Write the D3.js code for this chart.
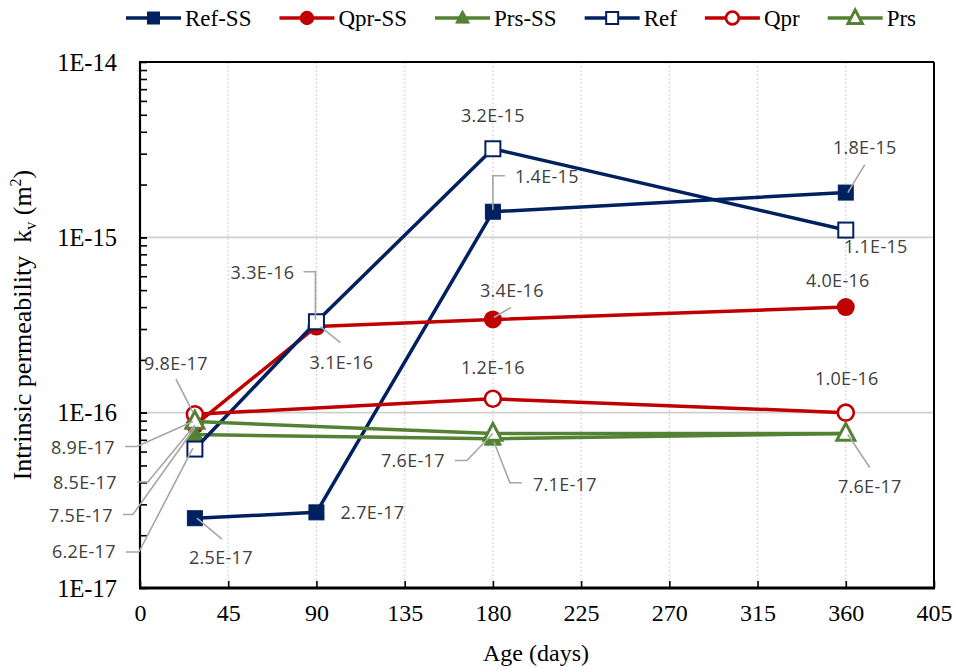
<!DOCTYPE html>
<html>
<head>
<meta charset="utf-8">
<script src="https://cdn.jsdelivr.net/npm/d3@7"></script>
<style>
  html, body { margin: 0; padding: 0; background: #fff; }
  svg { display: block; }
</style>
</head>
<body>
<svg id="chart" width="955" height="670"></svg>
<script>
// ---------------- DATA ----------------
const ages = [28, 90, 180, 360];
const seriesNames = ["Ref-SS", "Qpr-SS", "Prs-SS", "Ref", "Qpr", "Prs"];
const refSS = [2.5e-17, 2.7e-17, 1.4e-15, 1.8e-15];
const qprSS = [8.5e-17, 3.1e-16, 3.4e-16, 4.0e-16];
const prsSS = [7.5e-17, null, 7.1e-17, 7.6e-17];
const ref   = [6.2e-17, 3.3e-16, 3.2e-15, 1.1e-15];
const qpr   = [9.8e-17, null, 1.2e-16, 1.0e-16];
const prs   = [8.9e-17, null, 7.6e-17, 7.6e-17];
const xTickValues = [0, 45, 90, 135, 180, 225, 270, 315, 360, 405];
const yTickValues = [1e-17, 1e-16, 1e-15, 1e-14];
const yTickLabels = ["1E-17", "1E-16", "1E-15", "1E-14"];
const xTitle = "Age (days)";

// ---------------- STYLE / LAYOUT ----------------
const NAVY = "#002060", RED = "#C00000", GREEN = "#548235";
const styles = [
  { color: NAVY,  marker: "square",   filled: true  },
  { color: RED,   marker: "circle",   filled: true  },
  { color: GREEN, marker: "triangle", filled: true  },
  { color: NAVY,  marker: "square",   filled: false },
  { color: RED,   marker: "circle",   filled: false },
  { color: GREEN, marker: "triangle", filled: false }
];
const values = [refSS, qprSS, prsSS, ref, qpr, prs];

// label offsets relative to the data point (series index, point index, dx, dy, leader path offsets)
const annotations = [
  { s: 0, i: 0, dx: 26,   dy: 39,  leader: [[27, 21], [2, 0]] },
  { s: 0, i: 1, dx: 56,   dy: 0,   leader: null },
  { s: 0, i: 2, dx: 54,   dy: -35, leader: [[12, -36], [0, -36], [0, -2]] },
  { s: 0, i: 3, dx: 19,   dy: -45, leader: [[19, -28], [2, 0]] },
  { s: 1, i: 0, dx: -110, dy: 58,  leader: [[-58, 57], [-47, 57], [0, 0]] },
  { s: 1, i: 1, dx: 25,   dy: 36,  leader: [[24, 16], [4, 0]] },
  { s: 1, i: 2, dx: 19,   dy: -29, leader: [[18, -12], [1, -2]] },
  { s: 1, i: 3, dx: -8,   dy: -26, leader: null },
  { s: 2, i: 0, dx: -114, dy: 81,  leader: [[-72, 80], [-62, 80], [0, -7]] },
  { s: 2, i: 2, dx: 72,   dy: 46,  leader: [[29, 44], [17, 44], [1, 3]] },
  { s: 3, i: 0, dx: -111, dy: 103, leader: [[-69, 103], [-56, 103], [-2, -1]] },
  { s: 3, i: 1, dx: -54,  dy: -49, leader: [[-13, -50], [-1, -50], [-1, -2]] },
  { s: 3, i: 2, dx: 0,    dy: -33, leader: null },
  { s: 3, i: 3, dx: 30,   dy: 17,  leader: null },
  { s: 4, i: 0, dx: -19,  dy: -51, leader: [[-19, -35], [-2, -2]] },
  { s: 4, i: 2, dx: 0,    dy: -31, leader: null },
  { s: 4, i: 3, dx: 1,    dy: -34, leader: null },
  { s: 5, i: 0, dx: -112, dy: 26,  leader: [[-70, 25], [-58, 25], [-2, 0]] },
  { s: 5, i: 2, dx: -80,  dy: 27,  leader: [[-38, 27], [-26, 27], [0, 0]] },
  { s: 5, i: 3, dx: 24,   dy: 53,  leader: [[24, 34], [2, 1]] }
];

const plot = { left: 140, right: 934, top: 62, bottom: 588 };
const serif = "'Liberation Serif', 'Times New Roman', serif";
const sans = "'Open Sans', 'Noto Sans', sans-serif";

const svg = d3.select("#chart");

const x = d3.scaleLinear().domain([0, 405]).range([plot.left, plot.right]);
const y = d3.scaleLog().domain([1e-17, 1e-14]).range([plot.bottom, plot.top]);

// ---------------- GRID ----------------
const grid = svg.append("g");
grid.selectAll("line.vg")
  .data(xTickValues.filter(v => v > 0 && v < 405))
  .join("line")
  .attr("x1", d => x(d)).attr("x2", d => x(d))
  .attr("y1", plot.top).attr("y2", plot.bottom)
  .attr("stroke", "#d9d9d9").attr("stroke-width", 1.3)
  .attr("stroke-dasharray", "2,2");
grid.selectAll("line.hg")
  .data([1e-16, 1e-15])
  .join("line")
  .attr("x1", plot.left).attr("x2", plot.right)
  .attr("y1", d => y(d)).attr("y2", d => y(d))
  .attr("stroke", "#d0d0d0").attr("stroke-width", 1.6);

// ---------------- AXES ----------------
const yMinor = [];
[1e-17, 1e-16, 1e-15].forEach(dec => { for (let k = 1; k <= 10; k++) yMinor.push(dec * k); });
const yAxis = d3.axisLeft(y).tickValues(yMinor).tickSize(-7).tickFormat("");
const gy = svg.append("g").attr("transform", `translate(${plot.left},0)`).call(yAxis);
gy.select(".domain").remove();
gy.selectAll(".tick line").attr("stroke", "#000").attr("stroke-width", 1.6);

const yLab = svg.append("g");
yLab.selectAll("text")
  .data(yTickValues)
  .join("text")
  .attr("x", 117).attr("y", d => y(d))
  .attr("dy", "0.35em")
  .attr("text-anchor", "end")
  .attr("font-family", serif).attr("font-size", 24.5).attr("fill", "#000")
  .text((d, i) => yTickLabels[i]);

const xAxis = d3.axisBottom(x).tickValues(xTickValues).tickSize(-7).tickPadding(16).tickFormat(d3.format("d"));
const gx = svg.append("g").attr("transform", `translate(0,${plot.bottom})`).call(xAxis);
gx.select(".domain").remove();
gx.selectAll(".tick line").attr("stroke", "#000").attr("stroke-width", 1.6);
gx.selectAll(".tick text").attr("font-family", serif).attr("font-size", 24).attr("fill", "#000");

// frame
svg.append("line").attr("x1", plot.left).attr("x2", plot.right).attr("y1", plot.top).attr("y2", plot.top)
  .attr("stroke", "#000").attr("stroke-width", 2);
svg.append("line").attr("x1", plot.right).attr("x2", plot.right).attr("y1", plot.top).attr("y2", plot.bottom)
  .attr("stroke", "#000").attr("stroke-width", 2);
svg.append("line").attr("x1", plot.left).attr("x2", plot.left).attr("y1", plot.top - 1).attr("y2", plot.bottom)
  .attr("stroke", "#000").attr("stroke-width", 2.2);
svg.append("line").attr("x1", plot.left - 1).attr("x2", plot.right + 1).attr("y1", plot.bottom).attr("y2", plot.bottom)
  .attr("stroke", "#000").attr("stroke-width", 3);

// axis titles
svg.append("text")
  .attr("x", (plot.left + plot.right) / 2 - 1).attr("y", 661)
  .attr("text-anchor", "middle")
  .attr("font-family", serif).attr("font-size", 24).attr("fill", "#000")
  .text(xTitle);

const yt = svg.append("text")
  .attr("transform", `translate(31,${(plot.top + plot.bottom) / 2}) rotate(-90)`)
  .attr("text-anchor", "middle")
  .attr("font-family", serif).attr("font-size", 26).attr("fill", "#000");
yt.append("tspan").text("Intrinsic permeability\u00a0\u00a0k");
yt.append("tspan").attr("font-size", 16).attr("dy", 5).text("v");
yt.append("tspan").attr("dy", -5).text(" (m");
yt.append("tspan").attr("font-size", 16).attr("dy", -10).text("2");
yt.append("tspan").attr("dy", 10).text(")");

// ---------------- MARKERS ----------------
function drawMarker(g, type, filled, color, cx, cy, scale) {
  const s = scale || 1;
  if (type === "square") {
    const w = 15 * s;
    g.append("rect").attr("x", cx - w / 2).attr("y", cy - w / 2).attr("width", w).attr("height", w)
      .attr("fill", filled ? color : "#fff").attr("stroke", color).attr("stroke-width", filled ? 1 : 2);
  } else if (type === "circle") {
    g.append("circle").attr("cx", cx).attr("cy", cy).attr("r", (filled ? 9 : 8) * s)
      .attr("fill", filled ? color : "#fff").attr("stroke", color).attr("stroke-width", filled ? 0 : 2.6);
  } else {
    const h = (filled ? 16 : 17) * s, w = (filled ? 17 : 18) * s;
    const pts = [[cx, cy - h * 0.6], [cx + w / 2, cy + h * 0.4], [cx - w / 2, cy + h * 0.4]];
    g.append("path").attr("d", "M" + pts.map(p => p.join(",")).join("L") + "Z")
      .attr("fill", filled ? color : "#fff").attr("stroke", color)
      .attr("stroke-width", filled ? 1 : 3).attr("stroke-linejoin", "miter");
  }
}

// ---------------- SERIES ----------------
const line = d3.line().defined(d => d.v != null).x(d => x(d.a)).y(d => y(d.v));
const seriesG = svg.append("g");
values.forEach((vals, si) => {
  const pts = ages.map((a, i) => ({ a, v: vals[i] })).filter(d => d.v != null);
  const st = styles[si];
  const g = seriesG.append("g");
  g.append("path").datum(pts).attr("d", line)
    .attr("fill", "none").attr("stroke", st.color).attr("stroke-width", 3.5)
    .attr("stroke-linejoin", "round");
  pts.forEach(p => drawMarker(g, st.marker, st.filled, st.color, x(p.a), y(p.v)));
});

// ---------------- DATA LABELS ----------------
const fmt = v => v.toExponential(1).toUpperCase();
const labG = svg.append("g");
annotations.forEach(an => {
  const v = values[an.s][an.i];
  const px = x(ages[an.i]), py = y(v);
  if (an.leader) {
    labG.append("path")
      .attr("d", "M" + an.leader.map(o => [px + o[0], py + o[1]].join(",")).join("L"))
      .attr("fill", "none").attr("stroke", "#a6a6a6").attr("stroke-width", 1.6);
  }
  labG.append("text")
    .attr("x", px + an.dx).attr("y", py + an.dy)
    .attr("dy", "0.35em")
    .attr("text-anchor", "middle")
    .attr("font-family", sans).attr("font-size", 18).attr("letter-spacing", 0.3)
    .attr("fill", "#404040")
    .text(fmt(v));
});

// ---------------- LEGEND ----------------
const leg = svg.append("g");
let lx = 126;
const ly = 18;
seriesNames.forEach((name, si) => {
  const st = styles[si];
  const g = leg.append("g");
  const lineW = 55;
  g.append("line").attr("x1", lx).attr("x2", lx + lineW).attr("y1", ly).attr("y2", ly)
    .attr("stroke", st.color).attr("stroke-width", 3.5);
  drawMarker(g, st.marker, st.filled, st.color, lx + lineW / 2, ly, 0.8);
  const t = g.append("text").attr("x", lx + lineW + 4).attr("y", ly).attr("dy", "0.33em")
    .attr("font-family", serif).attr("font-size", 23).attr("fill", "#000").text(name);
  const tw = t.node().getComputedTextLength();
  lx = lx + lineW + 4 + tw + 28;
});
</script>
</body>
</html>
